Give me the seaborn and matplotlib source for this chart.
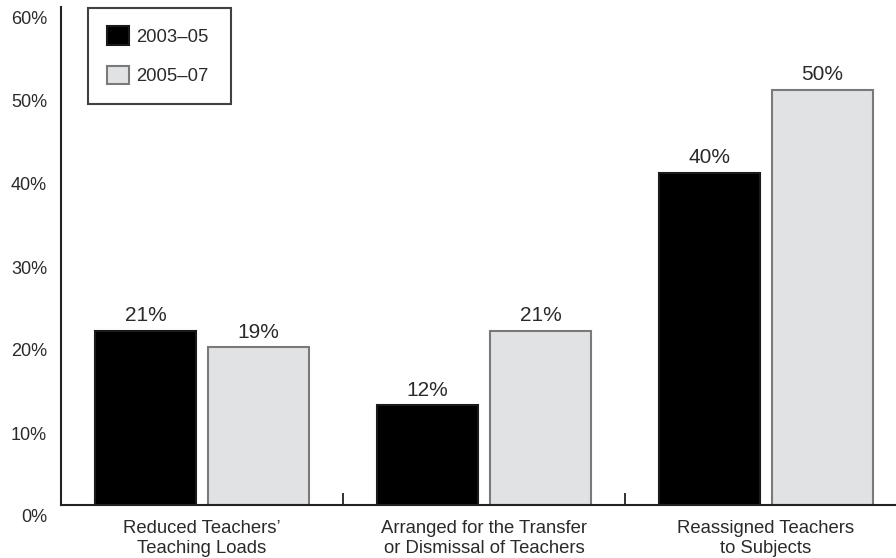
import matplotlib
matplotlib.use("Agg")
import matplotlib.pyplot as plt
import matplotlib.transforms as mtransforms
import seaborn as sns
import pandas as pd

categories = ["Reduced Teachers’\nTeaching Loads",
              "Arranged for the Transfer\nor Dismissal of Teachers",
              "Reassigned Teachers\nto Subjects"]
periods = ["2003–05", "2005–07"]
values_2003_05 = [21, 12, 40]
values_2005_07 = [19, 21, 50]
yticks = [0, 10, 20, 30, 40, 50, 60]
ytick_labels = ["0%", "10%", "20%", "30%", "40%", "50%", "60%"]

fill_colors = ["#000000", "#e0e2e4"]
edge_colors = ["#1a1a1a", "#7a7a7a"]
text_color = "#2a2a2a"

df = pd.DataFrame({
    "category": categories * 2,
    "period": [periods[0]] * 3 + [periods[1]] * 3,
    "value": values_2003_05 + values_2005_07,
})

sns.set_theme(style="white")
plt.rcParams["font.family"] = ["Liberation Sans", "DejaVu Sans"]

fig = plt.figure(figsize=(8.96, 5.58), dpi=100)
ax = fig.add_axes([61 / 896, 53 / 558, 846 / 896, 498 / 558])

sns.barplot(data=df, x="category", y="value", hue="period", order=categories,
            hue_order=periods, palette=fill_colors, width=0.8, gap=0.1,
            ax=ax, saturation=1, linewidth=1.5)

for container, ec, vals in zip(ax.containers, edge_colors, [values_2003_05, values_2005_07]):
    for patch in container:
        patch.set_edgecolor(ec)
        patch.set_linewidth(1.5)
    ax.bar_label(container, labels=[f"{v}%" for v in vals], padding=4,
                 fontsize=15, color=text_color)

ax.set_ylim(0, 60)
ax.set_xlim(-0.5, 2.5)
ax.set_xlabel("")
ax.set_ylabel("")

ax.set_yticks(yticks)
ax.set_yticklabels(ytick_labels, fontsize=13, color=text_color)
ax.tick_params(axis="y", length=0, pad=10)
offset = mtransforms.ScaledTranslation(0, -11 / 100, fig.dpi_scale_trans)
for lab in ax.get_yticklabels():
    lab.set_transform(lab.get_transform() + offset)

ax.set_xticks(range(len(categories)))
ax.set_xticklabels(categories, fontsize=13.3, color=text_color, linespacing=1.22)
ax.tick_params(axis="x", length=0, pad=11)
ax.set_xticks([0.5, 1.5], minor=True)
ax.tick_params(axis="x", which="minor", direction="in", length=9, width=1.3,
               color="#222222", bottom=True)

for side in ["top", "right"]:
    ax.spines[side].set_visible(False)
for side in ["left", "bottom"]:
    ax.spines[side].set_color("#222222")
    ax.spines[side].set_linewidth(1.5)

leg_w = 143 / 846
leg_h = 95 / 498
leg = ax.legend(loc="upper left", bbox_to_anchor=(0.032, 0.998 - leg_h, leg_w, leg_h),
                mode="expand", borderaxespad=0,
                fontsize=13.3, frameon=True, fancybox=False, edgecolor="#111111",
                handlelength=1.2, handleheight=1.2, handletextpad=0.4,
                labelspacing=1.05, borderpad=1.0, title=None)
leg.get_frame().set_linewidth(1.5)
for t in leg.get_texts():
    t.set_color(text_color)
for h, ec in zip(leg.legend_handles, edge_colors):
    h.set_edgecolor(ec)

fig.savefig("out.png", dpi=100)
